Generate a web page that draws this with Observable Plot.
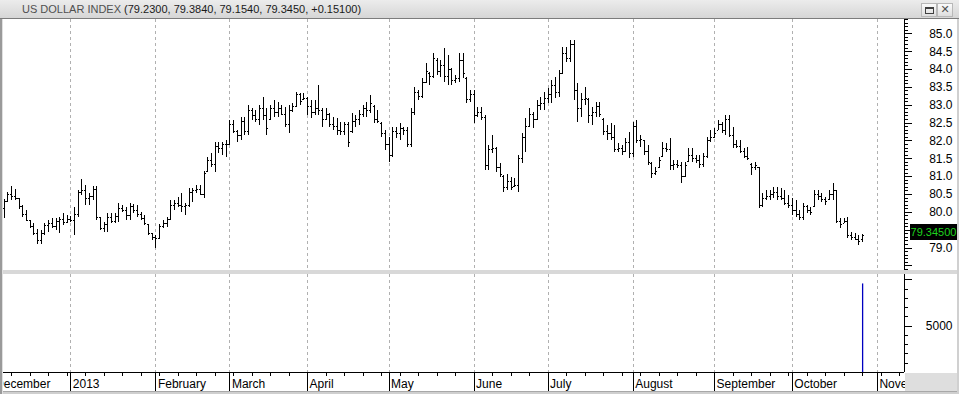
<!DOCTYPE html>
<html>
<head>
<meta charset="utf-8">
<script src="https://cdn.jsdelivr.net/npm/d3@7"></script>
<script src="https://cdn.jsdelivr.net/npm/@observablehq/plot@0.6"></script>
<style>
html,body{margin:0;padding:0;background:#d4d4d4;}
#wrap{position:relative;width:959px;height:394px;overflow:hidden;background:#d4d4d4;font-family:"Liberation Sans",Arial,sans-serif;}
#title{position:absolute;left:0;top:0;width:959px;height:18px;background:linear-gradient(#ececec,#d6d6d6);border-bottom:1px solid #7c7c7c;font-size:11px;line-height:18px;white-space:nowrap;}
#title .name{position:absolute;left:22px;top:0;color:#505050;}
.btn{position:absolute;top:3px;width:14px;height:12px;border:1px solid #b8b8b8;background:linear-gradient(#fafafa,#dedede);}
#bmax{left:921px;}
#bmax span{position:absolute;left:3px;top:3px;width:7px;height:4px;border:1px solid #404040;border-top-width:2px;}
#bclose{left:937px;color:#505050;font:bold 11px "DejaVu Sans",sans-serif;text-align:center;line-height:12px;}
#price{position:absolute;left:0;top:19px;}
#sep{position:absolute;left:0;top:270px;width:959px;height:4px;background:#d8d8d8;}
#vol{position:absolute;left:0;top:274px;}
#lb{position:absolute;left:0;top:19px;width:2px;height:375px;background:#9a9a9a;z-index:5;}
#lb2{position:absolute;left:2px;top:19px;width:1px;height:375px;background:#e0e0e0;z-index:5;}
#corner{position:absolute;left:905px;top:373px;width:54px;height:21px;background:#dedede;z-index:4;}
#bottom{position:absolute;left:0;top:391px;width:959px;height:3px;background:#cfcfcf;border-top:1px solid #a8a8a8;z-index:4;}
#rb{position:absolute;left:957px;top:19px;width:2px;height:375px;background:#d0d0d0;z-index:4;}
#last{position:absolute;left:910px;width:47px;height:16px;background:#000;color:#1ed21e;font-size:11px;line-height:16px;text-align:center;z-index:3;}
svg{overflow:hidden;}
</style>
</head>
<body>
<div id="wrap">
  <div id="title"><span class="name" id="tname"></span></div>
  <div class="btn" id="bmax"><span></span></div>
  <div class="btn" id="bclose">✕</div>
  <div id="price"></div>
  <div id="sep"></div>
  <div id="vol"></div>
  <div id="corner"></div>
  <div id="bottom"></div>
  <div id="lb"></div><div id="lb2"></div>
  <div id="rb"></div>
  <div id="last"></div>
</div>
<script>
// ---------- data (one bar per weekday, first bar 2012-12-06, last 2013-10-28) ----------
const seriesName = "US DOLLAR INDEX";
const firstDate = "2012-12-06";

const openV = [
80.10,80.30,80.50,80.45,80.38,80.15,79.95,79.76,79.60,79.42,79.20,79.40,79.62,79.70,79.60,79.75,79.80,79.72,
79.80,79.77,79.95,80.55,80.60,80.40,80.45,80.65,79.85,79.55,
79.65,79.85,79.75,79.88,80.10,80.05,79.92,80.15,80.05,79.95,
79.82,79.65,79.40,79.30,79.28,79.60,79.70,79.80,80.20,80.25,
80.20,80.15,80.20,80.55,80.60,80.65,80.50,81.15,81.45,81.35,
81.85,81.80,81.90,81.90,82.45,82.25,82.15,82.55,82.25,82.85,
82.70,82.60,82.90,82.70,82.60,82.90,82.80,82.90,82.75,82.45,
82.85,82.95,83.30,83.15,83.20,82.95,82.80,82.90,82.85,82.60,
82.75,82.45,82.40,82.30,82.25,82.45,82.25,82.55,82.60,82.75,
82.90,82.85,82.95,82.60,82.50,82.20,81.90,81.60,82.25,82.20,
82.35,82.30,81.90,82.80,83.35,83.25,83.65,83.90,83.80,84.25,
83.95,84.10,83.80,84.00,83.70,83.75,84.25,83.75,83.15,83.30,
82.70,82.80,82.65,81.30,81.75,81.80,81.25,81.00,80.70,80.85,
80.72,80.75,81.50,82.10,82.40,82.75,82.60,83.00,83.05,83.20,
83.30,83.55,83.35,83.90,84.45,84.30,84.70,83.40,82.90,83.15,
83.15,82.70,82.80,82.95,82.60,82.25,82.20,82.10,81.75,81.80,
81.70,81.95,81.65,82.40,82.00,82.00,81.70,81.38,81.10,81.25,
81.55,81.80,81.75,81.30,81.35,81.30,81.00,81.42,81.60,81.50,
81.45,81.35,81.55,82.00,82.10,82.30,82.45,82.30,82.60,82.15,
81.90,81.85,81.70,81.55,81.35,81.25,81.25,80.20,80.40,80.45,
80.50,80.55,80.45,80.40,80.25,80.20,80.05,79.95,79.85,80.15,
80.05,80.15,80.50,80.45,80.35,80.35,80.50,80.60,79.75,79.70,
79.75,79.35,79.30,79.25,79.23];

const highV = [
80.37,80.56,80.73,80.63,80.39,80.19,80.06,79.77,79.68,79.51,79.49,79.70,79.77,79.82,79.82,79.86,79.97,79.91,
79.88,80.14,80.61,80.91,80.75,80.52,80.73,80.73,79.86,79.72,
79.96,79.97,79.97,80.24,80.19,80.14,80.24,80.22,80.19,80.00,
79.91,79.66,79.40,79.35,79.66,79.77,79.86,80.33,80.33,80.42,
80.54,80.26,80.66,80.66,80.75,80.75,81.15,81.54,81.64,81.96,
81.96,81.96,82.01,82.57,82.57,82.29,82.66,82.66,82.99,82.90,
82.85,82.99,83.22,82.90,82.99,83.13,83.08,82.99,82.94,82.99,
83.04,83.36,83.32,83.32,83.22,83.13,83.13,83.55,82.90,82.90,
82.76,82.66,82.62,82.52,82.52,82.52,82.76,82.71,82.85,82.99,
83.08,83.27,82.99,82.85,82.52,82.29,82.10,82.38,82.38,82.48,
82.38,82.38,82.90,83.50,83.41,83.74,84.16,83.92,84.44,84.30,
84.25,84.58,84.39,84.02,83.83,84.44,84.44,83.78,83.41,83.41,
82.94,82.94,82.71,81.87,82.15,81.82,81.36,81.03,81.06,80.98,
80.94,81.59,82.20,82.62,82.90,82.80,83.13,83.22,83.36,83.46,
83.69,83.78,83.97,84.62,84.62,84.81,84.81,83.60,83.32,83.50,
83.18,82.94,83.08,83.08,82.62,82.43,82.48,82.43,81.92,81.87,
82.06,82.24,82.52,82.57,82.15,82.01,81.87,81.40,81.26,81.54,
81.96,81.92,82.06,81.45,81.45,81.40,81.40,81.78,81.78,81.59,
81.59,81.64,82.10,82.29,82.34,82.57,82.52,82.71,82.71,82.38,
82.01,82.01,81.78,81.82,81.36,81.40,81.26,80.52,80.61,80.61,
80.70,80.70,80.66,80.61,80.47,80.38,80.33,80.05,80.24,80.19,
80.14,80.61,80.61,80.52,80.42,80.61,80.80,80.61,79.82,79.82,
79.86,79.44,79.40,79.35,79.384];

const lowV = [
79.82,80.28,80.33,80.33,80.08,79.86,79.74,79.54,79.35,79.10,79.10,79.35,79.44,79.54,79.49,79.42,79.63,79.68,
79.72,79.35,79.86,80.47,80.19,80.19,80.33,79.77,79.49,79.44,
79.44,79.68,79.68,79.72,80.00,79.77,79.77,79.96,79.86,79.77,
79.63,79.35,79.21,78.98,79.26,79.54,79.58,79.77,80.05,80.14,
80.00,79.91,80.14,80.28,80.52,80.47,80.38,81.12,81.26,81.12,
81.64,81.59,81.54,81.87,82.20,81.96,82.01,82.15,82.15,82.57,
82.52,82.43,82.57,82.15,82.57,82.66,82.66,82.71,82.38,82.22,
82.80,82.94,82.99,83.13,82.71,82.62,82.71,82.71,82.38,82.57,
82.38,82.29,82.15,82.15,82.15,81.82,82.20,82.38,82.43,82.66,
82.66,82.76,82.48,82.48,82.10,81.73,81.40,81.54,82.06,82.01,
82.15,81.82,81.82,82.71,83.13,83.18,83.60,83.55,83.74,83.83,
83.78,83.64,83.55,83.55,83.60,83.64,83.74,83.04,83.08,82.48,
82.66,82.57,81.17,81.17,81.64,81.12,80.98,80.56,80.61,80.61,
80.70,80.56,81.36,81.68,82.38,82.34,82.57,82.85,82.85,83.04,
83.04,83.18,83.22,83.88,84.21,84.21,83.13,82.52,82.66,82.99,
82.48,82.43,82.66,82.66,82.15,82.01,82.01,81.68,81.68,81.59,
81.68,81.50,81.54,81.92,81.82,81.59,81.31,80.94,81.03,81.22,
81.54,81.68,81.17,81.17,81.22,80.80,80.98,81.40,81.40,81.36,
81.22,81.26,81.50,81.96,82.06,82.29,82.20,82.15,82.10,81.78,
81.78,81.64,81.50,81.45,81.03,81.17,80.10,80.14,80.33,80.33,
80.38,80.33,80.33,80.19,80.10,79.91,79.86,79.77,79.77,79.96,
79.91,80.14,80.33,80.28,80.19,80.33,80.33,79.68,79.54,79.68,
79.26,79.21,79.21,79.07,79.154];

const closeV = [
80.30,80.50,80.45,80.40,80.15,79.95,79.78,79.60,79.42,79.20,79.40,79.62,79.70,79.60,79.75,79.80,79.72,79.80,
79.77,79.95,80.55,80.60,80.40,80.45,80.65,79.85,79.55,79.65,
79.85,79.75,79.88,80.10,80.05,79.92,80.15,80.05,79.95,79.82,
79.70,79.40,79.30,79.28,79.60,79.70,79.80,80.20,80.25,80.20,
80.15,80.20,80.55,80.60,80.65,80.50,81.10,81.45,81.35,81.85,
81.80,81.90,81.90,82.45,82.25,82.15,82.55,82.25,82.85,82.70,
82.60,82.90,82.70,82.35,82.90,82.80,82.90,82.75,82.45,82.85,
82.95,83.30,83.10,83.20,82.95,82.80,82.90,82.85,82.60,82.75,
82.45,82.40,82.30,82.25,82.45,81.95,82.55,82.60,82.75,82.90,
82.85,83.05,82.60,82.55,82.20,81.90,81.60,82.25,82.20,82.35,
82.30,81.90,82.80,83.35,83.25,83.65,83.95,83.80,84.30,83.95,
84.10,83.80,84.00,83.70,83.75,84.25,83.90,83.15,83.30,82.70,
82.80,82.65,81.30,81.75,81.80,81.25,81.05,80.70,80.85,80.70,
80.75,81.50,82.10,82.40,82.75,82.60,83.00,83.05,83.20,83.30,
83.55,83.35,83.90,84.45,84.30,84.70,83.40,82.90,83.15,83.20,
82.70,82.80,82.95,82.75,82.25,82.20,82.10,81.75,81.80,81.70,
81.95,81.65,82.40,82.00,82.05,81.70,81.40,81.10,81.15,81.45,
81.80,81.75,81.30,81.35,81.30,81.00,81.30,81.60,81.50,81.45,
81.35,81.55,82.00,82.10,82.20,82.45,82.30,82.60,82.15,81.90,
81.85,81.70,81.55,81.50,81.25,81.30,80.20,80.40,80.45,80.50,
80.55,80.45,80.40,80.25,80.20,80.05,79.95,79.85,80.15,80.05,
80.00,80.50,80.45,80.35,80.30,80.50,80.60,79.75,79.65,79.75,
79.35,79.30,79.25,79.194,79.345];

const volumeDates = ["2013-10-28"];
const volumeValues = [9550];

const monthLabels = ["December","2013","February","March","April","May","June","July","August","September","October","November"];
const monthStarts = ["2012-12-03","2013-01-01","2013-02-01","2013-03-01","2013-04-01","2013-05-01","2013-06-03","2013-07-01","2013-08-01","2013-09-02","2013-10-01","2013-11-01"];
// 79.5 is hidden behind the last-price box in the reference, so it carries no label
const priceTickLabels = [79.0,80.0,80.5,81.0,81.5,82.0,82.5,83.0,83.5,84.0,84.5,85.0];
const priceMajorTicks = [78.5,79.0,79.5,80.0,80.5,81.0,81.5,82.0,82.5,83.0,83.5,84.0,84.5,85.0];
const volumeMajorTicks = [5000, 10000];
const volumeTickLabels = [5000];

// ---------- calendar helpers ----------
const parse = d3.utcParse("%Y-%m-%d");
const fmt = d3.utcFormat("%Y-%m-%d");
const origin = parse("2013-01-01");
function weekdayIndex(date) {           // trading-day (weekday) index relative to 2013-01-01
  let n = 0, d = new Date(origin);
  const step = date < origin ? -1 : 1;
  while (fmt(d) !== fmt(date)) {
    d = d3.utcDay.offset(d, step);
    const w = d.getUTCDay();
    if (w !== 0 && w !== 6) n += step;
  }
  return n;
}
const dates = [];
{
  let d = parse(firstDate);
  while (dates.length < openV.length) {
    const w = d.getUTCDay();
    if (w !== 0 && w !== 6) dates.push(d);
    d = d3.utcDay.offset(d, 1);
  }
}
const i0 = weekdayIndex(dates[0]);
const rows = dates.map((d, k) => ({i: i0 + k, date: d, o: openV[k], h: highV[k], l: lowV[k], c: closeV[k]}));
const volRows = volumeDates.map((s, k) => ({i: weekdayIndex(parse(s)), v: volumeValues[k]}));
const monthIdx = monthStarts.map(s => weekdayIndex(parse(s)));
const monthLabelOf = new Map(monthIdx.map((m, k) => [m, monthLabels[k]]));
const weekIdx = [];
for (let d = parse("2012-12-03"); d <= parse("2013-11-11"); d = d3.utcDay.offset(d, 7)) weekIdx.push(weekdayIndex(d));

const xDomain = [-18.19, 225.32];
const priceMinor = d3.range(784, 855).map(v => v / 10);
const volMinor = d3.range(1, 11).map(v => v * 1000);

const baseStyle = {background: "white", fontFamily: "'Liberation Sans', Arial, sans-serif", fontSize: "12px", color: "black", overflow: "hidden"};
const grid = {stroke: "#b0b0b0", strokeDasharray: "3,3", shapeRendering: "crispEdges"};

// ---------- price panel ----------
const price = Plot.plot({
  width: 959, height: 251,
  marginLeft: 3, marginRight: 55, marginTop: 0, marginBottom: 0,
  style: baseStyle,
  x: {domain: xDomain, axis: null},
  y: {domain: [78.370, 85.401], axis: null},
  marks: [
    Plot.ruleX(monthIdx, {...grid}),
    Plot.ruleX(rows, {x: "i", y1: "l", y2: "h", stroke: "black", shapeRendering: "crispEdges"}),
    Plot.link(rows, {x1: d => d.i - 0.42, x2: "i", y1: "o", y2: "o", stroke: "black", shapeRendering: "crispEdges"}),
    Plot.link(rows, {x1: "i", x2: d => d.i + 0.42, y1: "c", y2: "c", stroke: "black", shapeRendering: "crispEdges"}),
    Plot.ruleX([xDomain[1]], {stroke: "black", shapeRendering: "crispEdges"}),
    Plot.axisY(priceMinor, {anchor: "right", tickSize: 3, tickFormat: () => "", label: null, shapeRendering: "crispEdges"}),
    Plot.axisY(priceMajorTicks, {anchor: "right", tickSize: 7, tickFormat: () => "", label: null, shapeRendering: "crispEdges"}),
    Plot.axisY(priceTickLabels, {anchor: "right", tickSize: 0, tickPadding: 48, textAnchor: "end",
      tickFormat: d3.format(".1f"), label: null})
  ]
});
document.getElementById("price").append(price);

// ---------- volume panel + time axis ----------
const vol = Plot.plot({
  width: 959, height: 120,
  marginLeft: 3, marginRight: 55, marginTop: 0, marginBottom: 22,
  style: {...baseStyle, overflow: "visible"},
  x: {domain: xDomain, axis: null},
  y: {domain: [0, 10567], axis: null},
  marks: [
    Plot.ruleX(monthIdx, {...grid}),
    Plot.ruleX(volRows, {x: "i", y1: 0, y2: "v", stroke: "#0000c0", strokeWidth: 1.3}),
    Plot.ruleY([0], {stroke: "black", shapeRendering: "crispEdges"}),
    Plot.ruleX([xDomain[1]], {stroke: "black", shapeRendering: "crispEdges"}),
    Plot.axisY(volMinor, {anchor: "right", tickSize: 3, tickFormat: () => "", label: null, shapeRendering: "crispEdges"}),
    Plot.axisY(volumeMajorTicks, {anchor: "right", tickSize: 7, tickFormat: () => "", label: null, shapeRendering: "crispEdges"}),
    Plot.axisY(volumeTickLabels, {anchor: "right", tickSize: 0, tickPadding: 48, textAnchor: "end",
      tickFormat: v => String(v), label: null}),
    Plot.axisX(weekIdx, {anchor: "bottom", tickSize: 4, tickFormat: () => "", label: null, shapeRendering: "crispEdges"}),
    Plot.axisX(monthIdx, {anchor: "bottom", tickSize: 19, tickFormat: () => "", label: null, shapeRendering: "crispEdges"}),
    Plot.axisX(monthIdx, {anchor: "bottom", tickSize: 0, tickPadding: 7, textAnchor: "start", dx: 2,
      tickFormat: v => monthLabelOf.get(v), label: null})
  ]
});
document.getElementById("vol").append(vol);

// ---------- title bar and last-price label ----------
const n = rows.length - 1;
const chg = closeV[n] - closeV[n - 1];
document.getElementById("tname").innerHTML = seriesName +
  ' <span style="color:#1a1a1a">(' + [openV[n], highV[n], lowV[n], closeV[n]].map(v => v.toFixed(4)).join(", ") +
  ", " + (chg >= 0 ? "+" : "") + chg.toFixed(5) + ")</span>";
const last = document.getElementById("last");
last.textContent = closeV[n].toFixed(5);
last.style.top = (19 + price.scale("y").apply(closeV[n]) - 11) + "px";
</script>
</body>
</html>
